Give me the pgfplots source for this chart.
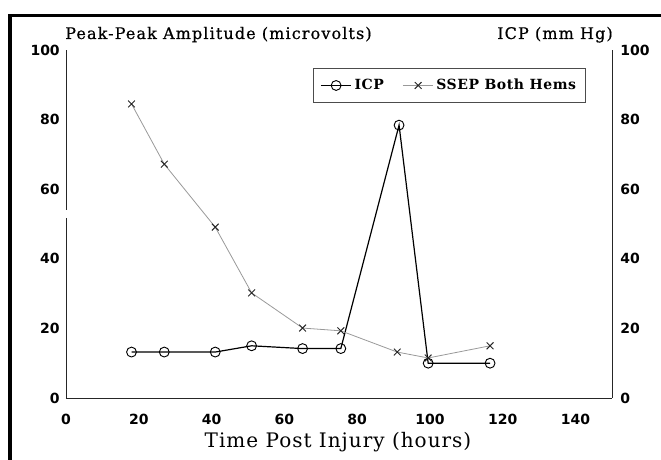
\documentclass[border=0pt]{standalone}
\usepackage{fontspec}
\setmainfont{DejaVu Serif}
\newfontfamily\tickfont{DejaVu Sans}
\newfontfamily\titlefont[LetterSpace=7,FakeBold=0.6]{DejaVu Serif}
\newfontfamily\xlabfont[LetterSpace=5]{DejaVu Serif}
\newfontfamily\legfont[LetterSpace=4]{DejaVu Serif}
\usepackage{pgfplots}
\pgfplotsset{compat=1.18}
\begin{document}
\begin{tikzpicture}[x=0.75pt,y=0.75pt]
\useasboundingbox (-66,-62) rectangle (595,398);
\draw[line width=2.3pt] (-56,-90) -- (-56,382.5) -- (620,382.5);
\pgfplotsset{
  base/.style={at={(0,0)}, anchor=south west, scale only axis,
    width=409.5pt, height=261pt,
    xmin=0, xmax=150, ymin=0, ymax=100,
    axis line style={line width=0.7pt, black!85},
    major tick length=0pt,
    xtick={0,20,...,140}, ytick={0,20,...,100},
    tick label style={font=\tickfont\bfseries\fontsize{10.5}{12}\selectfont, inner sep=0pt},
    /pgf/number format/assume math mode=true,
    xticklabel style={yshift=-12pt},
  }
}
\begin{axis}[base,
  axis x line*=bottom, axis y line*=left,
  yticklabel style={xshift=-4.5pt},
  legend style={at={(axis description cs:0.952,0.948)}, anchor=north east,
    draw=black!70, line width=0.6pt, legend columns=2,
    font=\legfont\bfseries\fontsize{10.5}{12}\selectfont,
    inner xsep=5pt, inner ysep=6pt,
    /tikz/every even column/.append style={column sep=12pt}},
  legend image code/.code={\draw[mark repeat=2,mark phase=2,#1] plot coordinates {(0cm,0cm) (0.4cm,0cm) (0.8cm,0cm)};},
]
\addplot[black, line width=0.9pt, mark=o, mark size=3.7pt, mark options={line width=0.7pt, fill=none}]
  coordinates {(18,13.2)(27,13.2)(41,13.2)(51,15)(65,14.2)(75.5,14.2)(91.5,78.4)(99.5,10)(116.5,10)};
\addlegendentry{ICP}
\addplot[black!40, line width=0.6pt, mark=x, mark size=3.6pt, mark options={black!85, line width=0.7pt}]
  coordinates {(18,84.5)(27,67.2)(41,49.1)(51,30.2)(65,20.1)(75.5,19.3)(91,13.2)(99.5,11.5)(116.5,15)};
\addlegendentry{SSEP Both Hems}
\end{axis}
\begin{axis}[base,
  axis x line=none, axis y line*=right,
  yticklabel style={xshift=6pt},
]
\end{axis}
\fill[white] (-2,180) rectangle (2,188);
\node[anchor=base west, inner sep=0pt, font=\titlefont\fontsize{12}{14}\selectfont] at (-1,359) {Peak-Peak Amplitude (microvolts)};
\node[anchor=base east, inner sep=0pt, font=\titlefont\fontsize{12}{14}\selectfont] at (547,359) {ICP (mm Hg)};
\node[anchor=base, inner sep=0pt, font=\xlabfont\fontsize{15}{18}\selectfont] at (272,-50) {Time Post Injury (hours)};
\end{tikzpicture}
\end{document}
